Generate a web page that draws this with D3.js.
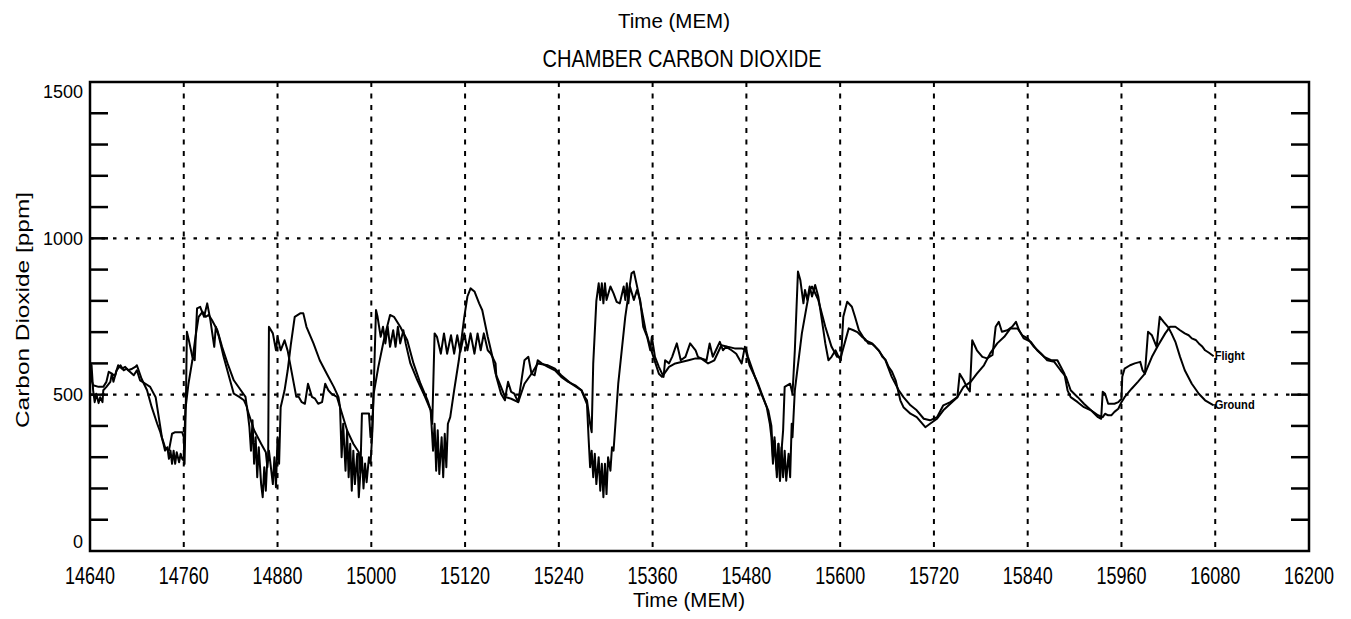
<!DOCTYPE html>
<html>
<head>
<meta charset="utf-8">
<script src="https://cdn.jsdelivr.net/npm/d3@7/dist/d3.min.js"></script>
<style>
html,body{margin:0;padding:0;background:#fff;}
svg{display:block;}
text{font-family:"Liberation Sans",Arial,sans-serif;fill:#000;}
</style>
</head>
<body>
<svg id="chart" width="1351" height="619"></svg>
<script>
// ---- data (time in MEM, CO2 in ppm) ----
const flightData = [[14640,600],[14642,594],[14644,514],[14646,476],[14648,503],[14651,473],[14653,492],[14656,476],[14657,514],[14661,525],[14666,541],[14668,567],[14672,560],[14676,594],[14681,583],[14685,589],[14689,578],[14694,583],[14698,589],[14700,594],[14706,551],[14713,514],[14719,460],[14726,407],[14730,380],[14734,343],[14736,321],[14739,332],[14741,295],[14743,321],[14745,279],[14747,321],[14749,279],[14751,316],[14754,284],[14756,311],[14758,295],[14760,289],[14762,450],[14766,535],[14771,610],[14775,685],[14779,749],[14784,765],[14788,749],[14792,755],[14796,739],[14803,706],[14809,653],[14816,600],[14824,546],[14833,514],[14839,493],[14841,455],[14850,386],[14859,343],[14865,316],[14867,268],[14869,321],[14874,214],[14876,300],[14878,204],[14880,364],[14882,279],[14884,460],[14889,514],[14893,578],[14897,660],[14902,749],[14909,760],[14913,760],[14917,717],[14926,664],[14934,610],[14943,567],[14952,525],[14958,492],[14960,460],[14969,386],[14977,343],[14984,316],[14986,250],[14988,300],[14990,200],[14992,280],[14994,220],[14997,300],[14999,280],[15001,364],[15003,503],[15009,589],[15016,674],[15024,755],[15029,749],[15037,717],[15046,674],[15054,600],[15063,535],[15072,482],[15076,450],[15079,321],[15081,407],[15083,257],[15085,386],[15087,246],[15090,364],[15092,236],[15094,375],[15096,268],[15098,407],[15101,428],[15106,514],[15112,610],[15119,749],[15123,814],[15127,840],[15132,830],[15138,792],[15142,770],[15149,685],[15155,621],[15159,567],[15166,525],[15171,493],[15179,487],[15188,476],[15196,535],[15205,567],[15213,600],[15226,594],[15235,583],[15243,562],[15256,535],[15269,514],[15276,470],[15278,364],[15280,268],[15282,321],[15284,236],[15286,311],[15288,214],[15291,300],[15293,193],[15295,279],[15297,172],[15299,279],[15301,182],[15303,300],[15306,257],[15308,332],[15310,321],[15316,535],[15325,749],[15333,888],[15336,894],[15342,824],[15351,706],[15357,653],[15361,621],[15368,567],[15372,557],[15381,589],[15389,600],[15398,605],[15406,610],[15415,616],[15422,616],[15431,600],[15439,610],[15448,658],[15456,653],[15465,648],[15474,648],[15480,642],[15482,621],[15491,557],[15499,503],[15508,450],[15512,400],[15514,300],[15516,364],[15519,257],[15521,343],[15523,225],[15525,332],[15527,236],[15529,321],[15531,225],[15534,311],[15536,236],[15538,407],[15539,364],[15542,514],[15551,696],[15557,781],[15561,835],[15564,846],[15572,803],[15581,717],[15589,653],[15596,621],[15601,621],[15611,712],[15617,706],[15622,700],[15628,685],[15632,678],[15636,664],[15641,662],[15645,653],[15650,640],[15654,621],[15658,612],[15662,589],[15666,575],[15671,546],[15677,482],[15681,460],[15690,439],[15698,428],[15709,396],[15715,407],[15724,423],[15732,450],[15741,471],[15750,492],[15758,525],[15767,541],[15775,567],[15784,594],[15792,632],[15801,664],[15810,685],[15818,712],[15827,712],[15833,690],[15840,680],[15848,653],[15857,632],[15865,610],[15874,605],[15882,578],[15889,557],[15895,514],[15904,492],[15912,471],[15921,450],[15930,434],[15936,428],[15939,439],[15943,434],[15947,434],[15951,445],[15956,455],[15960,476],[15964,492],[15973,519],[15981,541],[15990,567],[15999,621],[16007,658],[16016,696],[16022,717],[16029,717],[16035,706],[16041,696],[16046,690],[16050,680],[16055,675],[16059,664],[16063,655],[16067,642],[16072,634],[16078,623]];

const groundData = [[14640,600],[14642,546],[14644,530],[14651,525],[14657,525],[14661,541],[14664,573],[14668,567],[14670,541],[14674,578],[14679,594],[14683,578],[14687,583],[14691,573],[14696,562],[14700,578],[14704,546],[14711,535],[14717,525],[14724,492],[14728,428],[14732,364],[14736,332],[14741,321],[14745,375],[14749,380],[14758,380],[14760,364],[14761,278],[14763,520],[14764,701],[14766,680],[14771,621],[14774,610],[14777,776],[14781,781],[14786,749],[14790,792],[14794,739],[14799,653],[14801,717],[14805,685],[14811,621],[14818,557],[14824,503],[14831,493],[14837,482],[14841,460],[14844,396],[14846,321],[14848,418],[14850,279],[14852,364],[14854,236],[14856,332],[14859,214],[14861,172],[14863,268],[14865,193],[14867,300],[14868,300],[14869,717],[14874,696],[14878,642],[14880,685],[14884,642],[14889,674],[14893,640],[14896,600],[14904,493],[14907,493],[14911,476],[14915,471],[14919,535],[14924,493],[14928,487],[14932,471],[14937,476],[14941,535],[14945,514],[14949,503],[14956,493],[14960,460],[14962,300],[14964,407],[14967,257],[14969,386],[14971,236],[14973,343],[14975,193],[14977,321],[14979,214],[14982,311],[14984,172],[14986,250],[14988,440],[14997,440],[14999,364],[15001,380],[15003,514],[15006,771],[15008,749],[15012,685],[15015,717],[15018,664],[15021,717],[15024,653],[15028,706],[15031,653],[15034,717],[15037,664],[15041,706],[15044,664],[15050,600],[15059,546],[15067,503],[15076,450],[15078,407],[15081,696],[15084,685],[15089,631],[15093,696],[15097,631],[15102,690],[15106,631],[15110,690],[15114,637],[15119,696],[15123,642],[15127,696],[15132,631],[15136,696],[15140,642],[15144,696],[15149,642],[15153,631],[15159,600],[15160,557],[15166,503],[15171,482],[15173,514],[15175,541],[15179,509],[15183,503],[15188,476],[15196,610],[15201,621],[15205,567],[15209,562],[15213,610],[15218,600],[15226,589],[15235,578],[15243,557],[15252,541],[15261,530],[15269,514],[15273,493],[15276,482],[15280,407],[15282,380],[15284,600],[15288,800],[15291,856],[15293,803],[15295,856],[15297,792],[15299,856],[15301,803],[15306,846],[15310,824],[15314,797],[15318,792],[15323,846],[15325,803],[15327,856],[15329,792],[15331,846],[15336,803],[15340,835],[15344,803],[15348,717],[15353,685],[15357,642],[15359,685],[15363,621],[15368,589],[15374,557],[15376,610],[15381,600],[15385,621],[15391,664],[15396,610],[15402,621],[15408,664],[15415,642],[15418,621],[15422,616],[15429,610],[15433,664],[15437,621],[15441,642],[15446,669],[15450,642],[15454,653],[15461,642],[15467,631],[15474,600],[15478,653],[15484,594],[15495,535],[15506,460],[15510,407],[15512,364],[15514,279],[15516,353],[15519,236],[15521,343],[15523,225],[15525,321],[15527,386],[15529,525],[15536,535],[15539,503],[15542,642],[15546,894],[15549,867],[15553,792],[15555,835],[15558,803],[15561,846],[15564,814],[15568,851],[15572,814],[15576,749],[15581,664],[15585,610],[15589,621],[15594,642],[15598,621],[15601,610],[15604,749],[15609,797],[15615,781],[15619,749],[15624,706],[15632,674],[15641,664],[15649,642],[15658,610],[15666,557],[15675,514],[15681,492],[15690,466],[15698,450],[15707,423],[15715,418],[15724,428],[15732,466],[15741,476],[15750,492],[15753,567],[15758,546],[15762,525],[15766,510],[15769,674],[15775,642],[15782,621],[15788,616],[15795,627],[15799,717],[15803,733],[15807,701],[15814,706],[15820,717],[15825,733],[15829,706],[15835,680],[15844,669],[15852,642],[15861,621],[15870,610],[15878,610],[15887,567],[15891,514],[15895,492],[15904,476],[15912,460],[15921,450],[15930,428],[15934,423],[15936,509],[15939,503],[15943,471],[15951,471],[15956,476],[15960,487],[15961,557],[15964,583],[15971,594],[15977,600],[15984,605],[15987,578],[15990,567],[15994,701],[15999,690],[16005,653],[16009,749],[16014,733],[16020,715],[16024,696],[16029,669],[16035,621],[16041,578],[16050,535],[16059,503],[16067,482],[16078,466]];

const xTickLabels = [14640,14760,14880,15000,15120,15240,15360,15480,15600,15720,15840,15960,16080,16200];
const xGridValues = [14760,14880,15000,15120,15240,15360,15480,15600,15720,15840,15960,16080];
const yTickLabels = [0,500,1000,1500];
const yMinorTicks = [100,200,300,400,500,600,700,800,900,1000,1100,1200,1300,1400];
const yGridValues = [500,1000];
const seriesLabels = [{name:"Flight", data:flightData},{name:"Ground", data:groundData}];

// ---- drawing ----
const svg = d3.select("#chart");
const L = 90, R = 1309, T = 82, B = 551;
const x = d3.scaleLinear().domain([14640,16200]).range([L,R]);
const y = d3.scaleLinear().domain([0,1500]).range([B,T]);

// grid
svg.append("g").selectAll("line").data(xGridValues).join("line")
  .attr("x1",d=>x(d)).attr("x2",d=>x(d)).attr("y1",T).attr("y2",B)
  .attr("stroke","#000").attr("stroke-width",2).attr("stroke-dasharray","5,6.5");
svg.append("g").selectAll("line").data(yGridValues).join("line")
  .attr("x1",L).attr("x2",R).attr("y1",d=>y(d)).attr("y2",d=>y(d))
  .attr("stroke","#000").attr("stroke-width",2.4).attr("stroke-dasharray","3.5,8");

// series
const line = d3.line().x(d=>x(d[0])).y(d=>y(d[1]));
svg.append("g").selectAll("path").data(seriesLabels).join("path")
  .attr("d",d=>line(d.data)).attr("fill","none").attr("stroke","#000")
  .attr("stroke-width",2).attr("stroke-linejoin","round");

// series end labels
svg.append("g").selectAll("text").data(seriesLabels).join("text")
  .attr("x",d=>x(d.data[d.data.length-1][0])+1)
  .attr("y",d=>y(d.data[d.data.length-1][1])+4)
  .attr("font-size",13).attr("font-weight","bold")
  .attr("textLength",d=>d.name==="Flight"?30:40).attr("lengthAdjust","spacingAndGlyphs")
  .text(d=>d.name);

// frame
svg.append("rect").attr("x",L).attr("y",T).attr("width",R-L).attr("height",B-T)
  .attr("fill","none").attr("stroke","#000").attr("stroke-width",2.5);

// y ticks (inward, both sides)
const tg = svg.append("g");
tg.selectAll("line.l").data(yMinorTicks).join("line").attr("class","l")
  .attr("x1",L).attr("x2",L+18).attr("y1",d=>y(d)).attr("y2",d=>y(d))
  .attr("stroke","#000").attr("stroke-width",2.5);
tg.selectAll("line.r").data(yMinorTicks).join("line").attr("class","r")
  .attr("x1",R-18).attr("x2",R).attr("y1",d=>y(d)).attr("y2",d=>y(d))
  .attr("stroke","#000").attr("stroke-width",2.5);

// y tick labels
svg.append("g").selectAll("text").data(yTickLabels).join("text")
  .attr("x",83)
  .attr("y",d=>y(d)+6.5+(d===1500?9:(d===0?-10:0)))
  .attr("text-anchor","end").attr("font-size",18)
  .text(d=>d);

// x tick labels
svg.append("g").selectAll("text").data(xTickLabels).join("text")
  .attr("x",d=>x(d)).attr("y",584)
  .attr("text-anchor","middle").attr("font-size",24)
  .attr("textLength",50).attr("lengthAdjust","spacingAndGlyphs")
  .text(d=>d);

// titles
svg.append("text").attr("x",674).attr("y",28).attr("text-anchor","middle")
  .attr("font-size",20).attr("textLength",112).attr("lengthAdjust","spacingAndGlyphs")
  .text("Time (MEM)");
svg.append("text").attr("x",682).attr("y",67).attr("text-anchor","middle")
  .attr("font-size",24).attr("textLength",279).attr("lengthAdjust","spacingAndGlyphs")
  .text("CHAMBER CARBON DIOXIDE");
svg.append("text").attr("x",689).attr("y",607).attr("text-anchor","middle")
  .attr("font-size",20).attr("textLength",112).attr("lengthAdjust","spacingAndGlyphs")
  .text("Time (MEM)");
svg.append("text").attr("transform","translate(29,310) rotate(-90)")
  .attr("text-anchor","middle").attr("font-size",19)
  .attr("textLength",236).attr("lengthAdjust","spacingAndGlyphs")
  .text("Carbon Dioxide [ppm]");
</script>
</body>
</html>
